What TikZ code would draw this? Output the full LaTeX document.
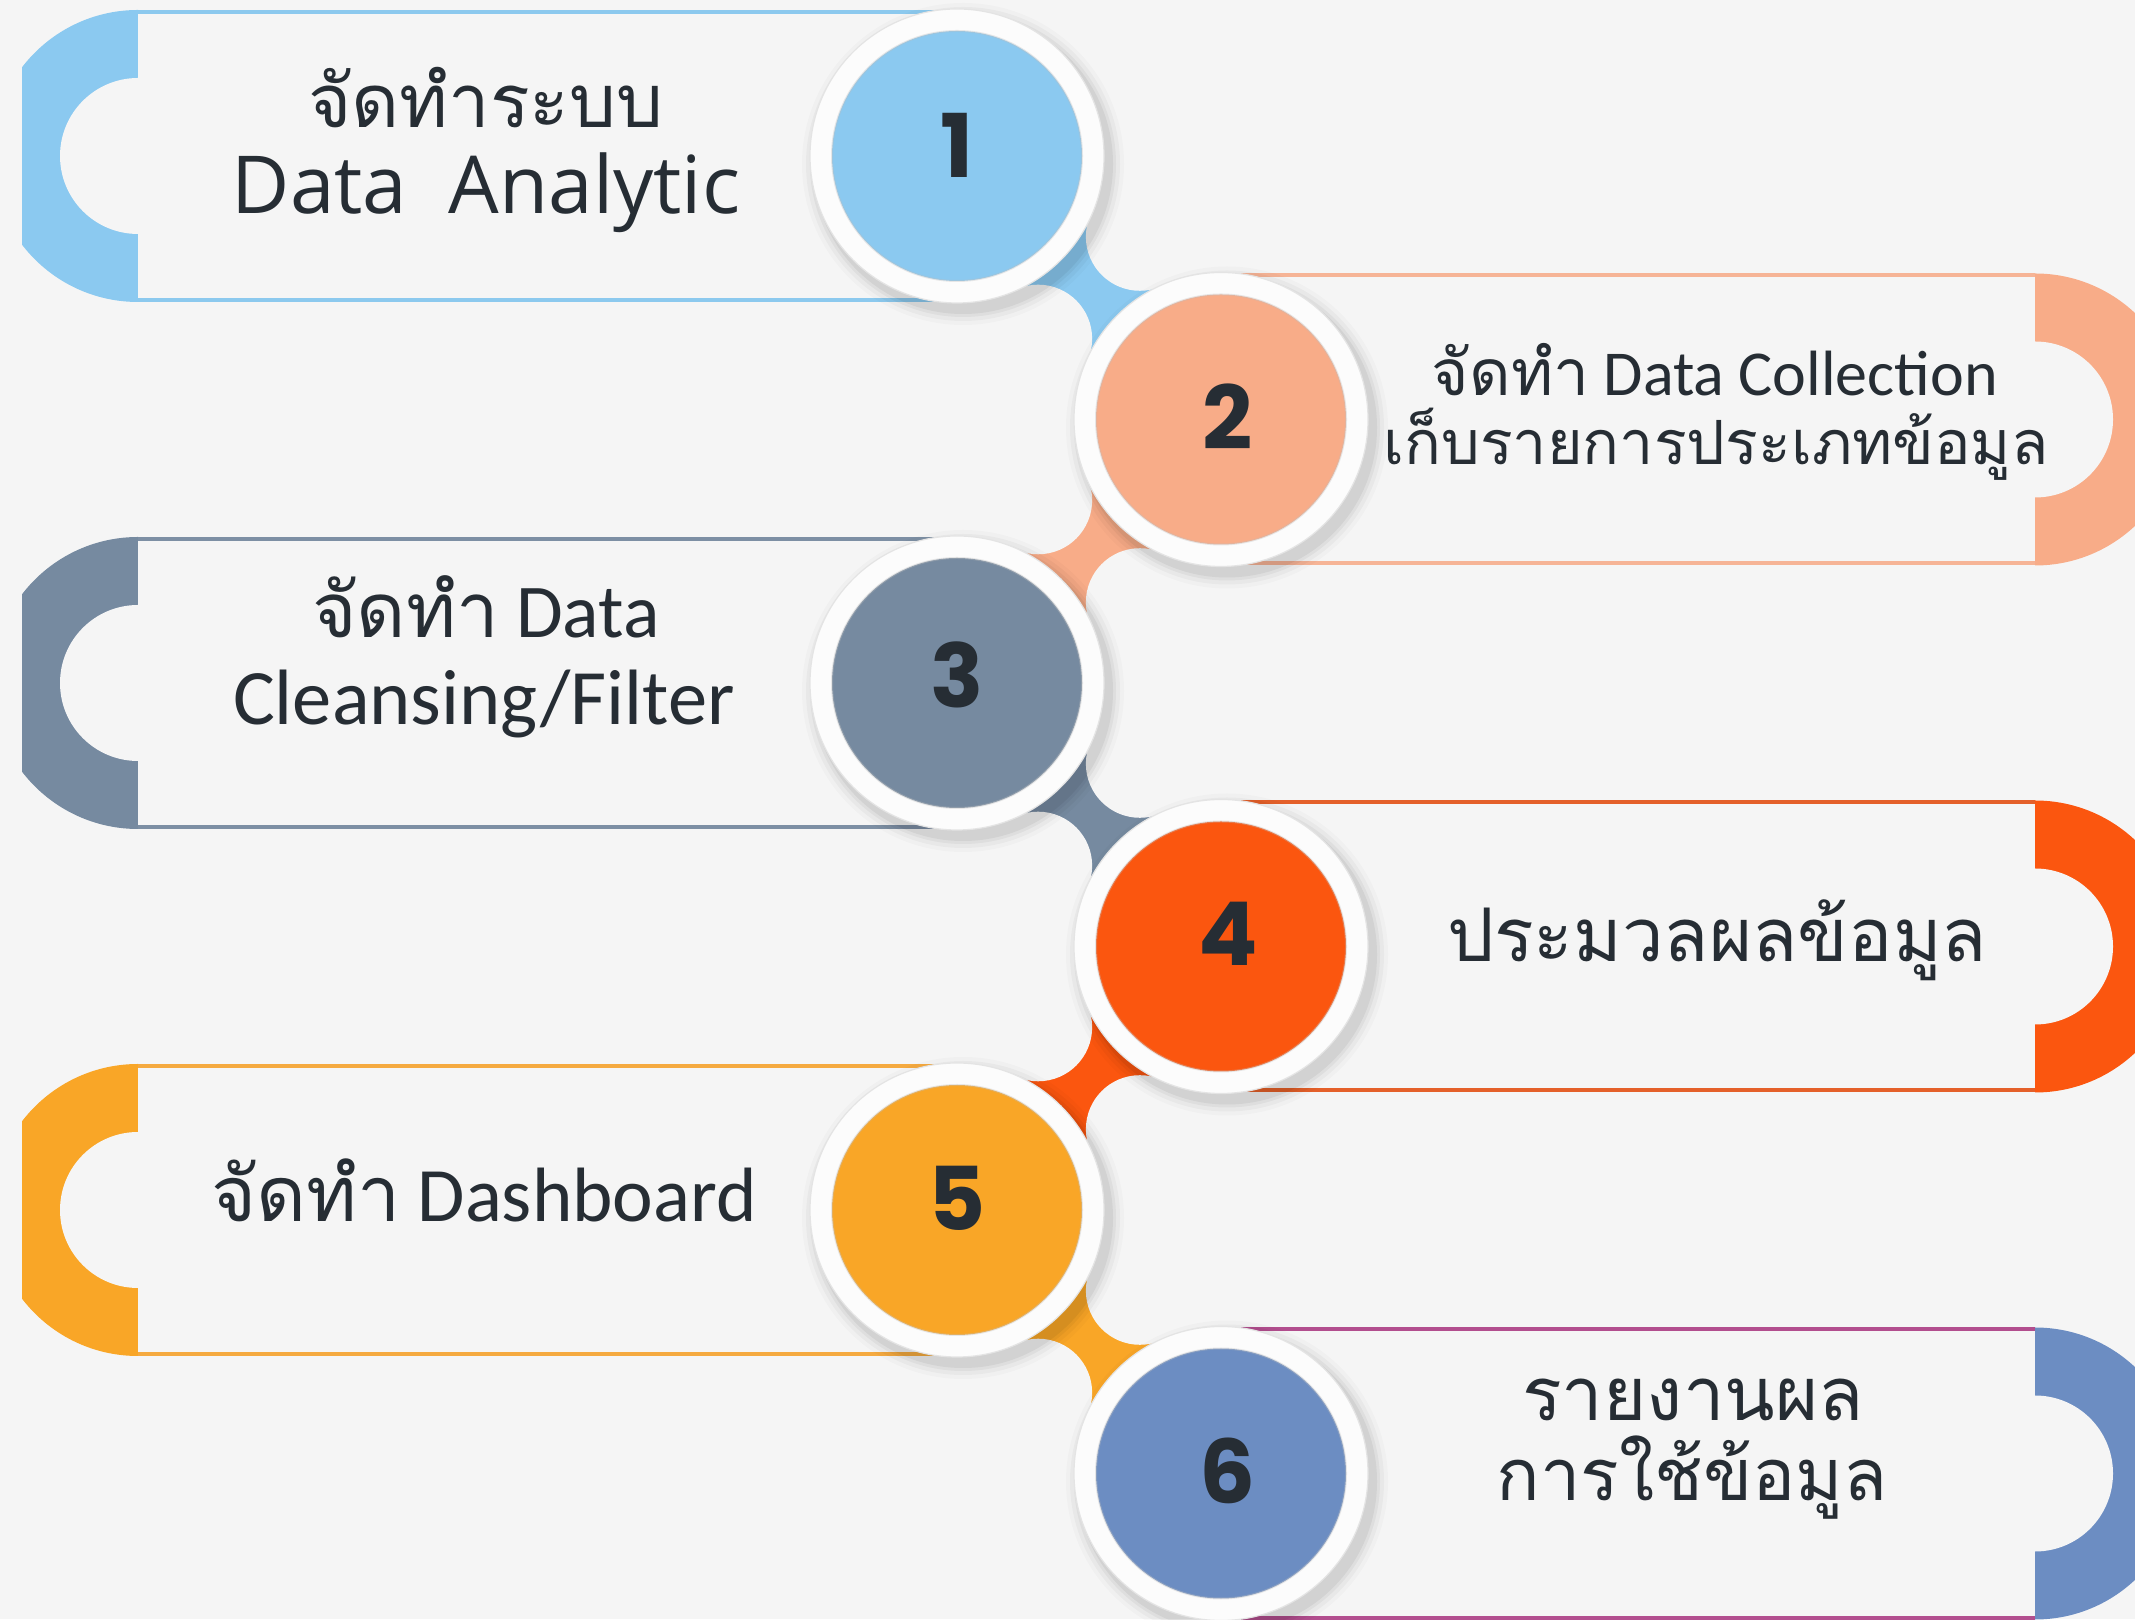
\documentclass[tikz,border=0pt]{standalone}
\usepackage{fontspec}
\setmainfont{Carlito}
\newfontfamily\thai[Script=Thai]{Loma}
\newfontfamily\osans{Open Sans}
\newfontfamily\numf{Poppins}
\usetikzlibrary{calc}
\definecolor{bgc}{HTML}{F5F5F5}
\definecolor{c1}{HTML}{8BC9F0}
\definecolor{c2}{HTML}{F8AC88}
\definecolor{c3}{HTML}{768AA0}
\definecolor{c4}{HTML}{FB560F}
\definecolor{c5}{HTML}{F9A627}
\definecolor{c6}{HTML}{6C8DC2}
\definecolor{b1}{HTML}{8CC9EE}
\definecolor{b2}{HTML}{F6B496}
\definecolor{b3}{HTML}{7D8FA4}
\definecolor{b4}{HTML}{E4602A}
\definecolor{b5}{HTML}{F5AA40}
\definecolor{b6}{HTML}{B24E8E}
\definecolor{txtc}{HTML}{262D34}
\definecolor{ringc}{HTML}{FCFCFC}
\definecolor{ringedge}{HTML}{E4E4E4}
\tikzset{
  ringnode/.style={circle, inner sep=0pt, minimum size=294pt, fill=ringc, draw=ringedge, line width=1.2pt},
  disknode/.style={circle, inner sep=0pt, minimum size=250pt, draw=black!25, draw opacity=0.35, line width=2pt},
  numnode/.style={anchor=base, inner sep=0pt, text=txtc, font=\numf\bfseries\fontsize{88}{90}\selectfont},
  txtnode/.style={anchor=base, inner sep=0pt, text=txtc, text height=0.62em, text depth=0.12em},
  border/.style={line width=4pt},
}
\newcommand\lefttab[3]{%
  \fill[#2] (138,#1+146) arc (90:270:146) -- cycle;
  \fill[bgc] (138,#1) circle (78);
  \fill[bgc] (138,#1-146) rectangle (957,#1+146);
  \draw[#3, border] (138,#1+144) -- (957,#1+144) (138,#1-144) -- (957,#1-144);
}
\newcommand\righttab[3]{%
  \fill[#2] (2035,#1+146) arc (90:-90:146) -- cycle;
  \fill[bgc] (2035,#1) circle (78);
  \fill[bgc] (1221,#1-146) rectangle (2035,#1+146);
  \draw[#3, border] (1221,#1+144) -- (2035,#1+144) (1221,#1-144) -- (2035,#1-144);
}
\begin{document}
\begin{tikzpicture}[x=1pt,y=1pt]
\useasboundingbox (0,0) rectangle (2135,1619);
\fill[bgc] (0,0) rectangle (2135,1619);
\begin{scope}
\clip (22,0) rectangle (2135,1619);
\coordinate (p1) at (957,1463);
\coordinate (p2) at (1221,1199.5);
\coordinate (p3) at (957,936);
\coordinate (p4) at (1221,672.5);
\coordinate (p5) at (957,409);
\coordinate (p6) at (1221,145.5);
% tabs
\lefttab{1463}{c1}{b1}
\righttab{1199.5}{c2}{b2}
\lefttab{936}{c3}{b3}
\righttab{672.5}{c4}{b4}
\lefttab{409}{c5}{b5}
\righttab{145.5}{c6}{b6}
% connectors
\foreach \a/\b/\col in {p1/p2/c1, p2/p3/c2, p3/p4/c3, p4/p5/c4, p5/p6/c5} {
  \coordinate (m) at ($(\a)!0.5!(\b)$);
  \coordinate (u) at ($(m)!72pt!90:(\b)$);
  \coordinate (v) at ($(m)!72pt!-90:(\b)$);
  \fill[\col] (\a) -- (u) -- (\b) -- (v) -- cycle;
  \fill[bgc] (u) circle (54) (v) circle (54);
}
% circles
\foreach \p/\col/\n/\dx/\dy in {p1/c1/1/0/-22, p2/c2/2/7/-30, p3/c3/3/0/-25, p4/c4/4/7/-19, p5/c5/5/0/-21, p6/c6/6/7/-30} {
  \foreach \r/\o in {150/0.05, 153/0.04, 157/0.03, 161/0.02} {
    \fill[black, opacity=\o] ($(\p)+(6,-8)$) circle (\r);
  }
  \node[ringnode] (r\n) at (\p) {};
  \node[disknode, fill=\col] (n\n) at (\p) {};
  \node[numnode] (d\n) at ($(\p)+(\dx,\dy)$) {\n};
}
% texts
\node[txtnode] (t1a) at (486,1491) {\thai\fontsize{74}{80}\selectfont จัดทำระบบ};
\node[txtnode] (t1b) at (486,1405) {\osans\fontsize{80}{80}\selectfont Data~ Analytic};
\node[txtnode] (t2a) at (1715,1223) {\fontsize{64}{66}\selectfont{\thai จัดทำ} Data Collection};
\node[txtnode] (t2b) at (1716,1154) {\thai\fontsize{61}{66}\selectfont เก็บรายการประเภทข้อมูล};
\node[txtnode] (t3a) at (486,981) {\fontsize{76}{80}\selectfont{\thai จัดทำ} Data};
\node[txtnode] (t3b) at (484,894) {\fontsize{78.5}{80}\selectfont Cleansing/Filter};
\node[txtnode] (t4) at (1717,657) {\thai\fontsize{74}{80}\selectfont ประมวลผลข้อมูล};
\node[txtnode] (t5) at (484,397) {\fontsize{77}{80}\selectfont{\thai จัดทำ} Dashboard};
\node[txtnode] (t6a) at (1693,198) {\thai\fontsize{74}{80}\selectfont รายงานผล};
\node[txtnode] (t6b) at (1692,118) {\thai\fontsize{72}{80}\selectfont การใช้ข้อมูล};
\end{scope}
\end{tikzpicture}
\end{document}
